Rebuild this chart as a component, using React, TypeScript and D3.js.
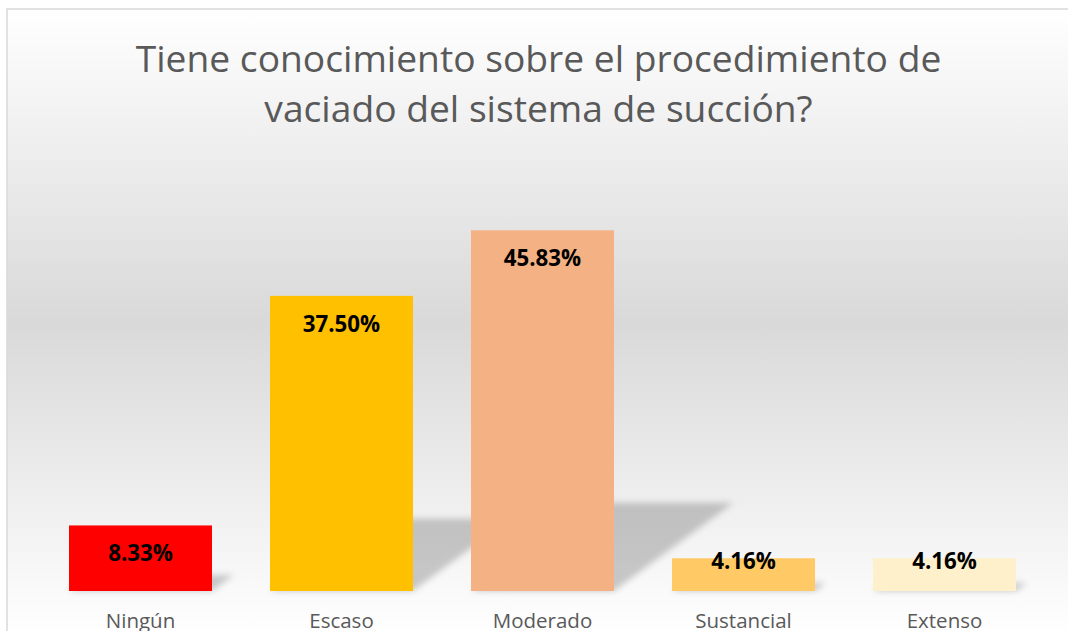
import React from "react";
import * as d3 from "d3";

const titleLines = ["Tiene conocimiento sobre el procedimiento de", "vaciado del sistema de succión?"];
const categories = ["Ningún", "Escaso", "Moderado", "Sustancial", "Extenso"];
const values = [8.33, 37.5, 45.83, 4.16, 4.16];
const labels = ["8.33%", "37.50%", "45.83%", "4.16%", "4.16%"];
const colors = ["#ff0000", "#ffc000", "#f4b183", "#ffc965", "#fff0cc"];

const W = 1068;
const H = 631;
const FONT = "'Open Sans', 'DejaVu Sans', sans-serif";

export default function App() {
  const x = d3.scaleBand<string>().domain(categories).range([40, 1045]).paddingInner(0.2886).paddingOuter(0.1443);
  const y = d3.scaleLinear().domain([0, 50]).range([591, 197.5]);
  const base = y(0);
  const shadowScale = 0.245;
  const shadowSkew = 1.35;
  const shadowPath = (i: number) => {
    const x0 = x(categories[i])!;
    const x1 = x0 + x.bandwidth();
    const h = base - y(values[i]);
    const hs = h * shadowScale;
    const dx = hs * shadowSkew;
    const p = d3.path();
    p.moveTo(x0, base);
    p.lineTo(x1, base);
    p.lineTo(x1 + dx, base - hs);
    p.lineTo(x0 + dx, base - hs);
    p.closePath();
    return p.toString();
  };
  return (
    <svg width={W} height={H} style={{ position: "absolute", left: 0, top: 0, display: "block" }}>
      <defs>
        <linearGradient id="bg" gradientUnits="userSpaceOnUse" x1="0" y1="9" x2="0" y2="635">
          <stop offset="0" stopColor="#ffffff" />
          <stop offset="0.5" stopColor="#d9d9d9" />
          <stop offset="1" stopColor="#ffffff" />
        </linearGradient>
        <filter id="blur" x="-20%" y="-50%" width="140%" height="200%">
          <feGaussianBlur stdDeviation="3" />
        </filter>
      </defs>
      <rect x={0} y={0} width={W} height={H} fill="#ffffff" />
      <rect x={7} y={9} width={1100} height={700} fill="url(#bg)" stroke="#d9d9d9" strokeWidth={1.5} />
      {titleLines.map((t, i) => (
        <text key={i} x={538.5} y={72 + i * 50} textAnchor="middle" fontFamily={FONT} fontSize={37.2} fill="#595959">
          {t}
        </text>
      ))}
      <g filter="url(#blur)">
        {values.map((v, i) => (
          <path key={i} d={shadowPath(i)} fill="#000000" fillOpacity={0.2} />
        ))}
      </g>
      {values.map((v, i) => (
        <rect key={i} x={x(categories[i])} y={y(v)} width={x.bandwidth()} height={base - y(v)} fill={colors[i]} />
      ))}
      {values.map((v, i) => {
        const h = base - y(v);
        const off = h > 50 ? 36 : 11;
        return (
          <text key={i} x={x(categories[i])! + x.bandwidth() / 2} y={y(v) + off} textAnchor="middle" fontFamily={FONT} fontWeight={700} fontSize={22.3} fill="#000000">
            {labels[i]}
          </text>
        );
      })}
      {categories.map((c, i) => (
        <text key={c} x={x(c)! + x.bandwidth() / 2} y={628} textAnchor="middle" fontFamily={FONT} fontSize={20.5} fill="#595959">
          {c}
        </text>
      ))}
    </svg>
  );
}
